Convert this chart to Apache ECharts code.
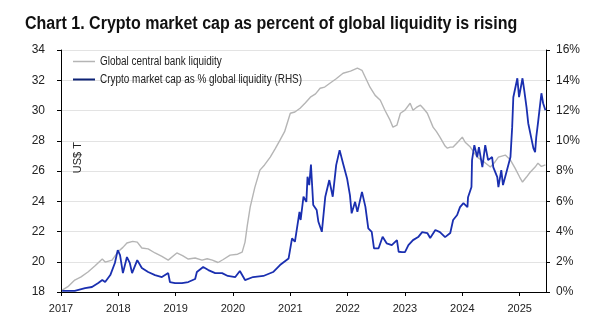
<!DOCTYPE html>
<html>
<head>
<meta charset="utf-8">
<script src="https://cdn.jsdelivr.net/npm/echarts@6/dist/echarts.min.js"></script>
<style>
html,body{margin:0;padding:0;background:#fff;}
#chart{width:600px;height:325px;}
</style>
</head>
<body>
<div id="chart"></div>
<script>
// ---- Data ----
var titleText = 'Chart 1. Crypto market cap as percent of global liquidity is rising';
var seriesNames = ['Global central bank liquidity', 'Crypto market cap as % global liquidity (RHS)'];
var yearTicks = [2017, 2018, 2019, 2020, 2021, 2022, 2023, 2024, 2025];

var liquidityDates = [2017.02,2017.12,2017.24,2017.35,2017.47,2017.60,2017.72,2017.77,2017.89,2017.99,
  2018.08,2018.15,2018.25,2018.33,2018.41,2018.52,2018.64,2018.76,2018.87,2019.02,
  2019.12,2019.22,2019.34,2019.46,2019.55,2019.64,2019.74,2019.83,2019.95,2020.08,
  2020.16,2020.21,2020.25,2020.30,2020.38,2020.47,2020.55,2020.65,2020.74,2020.82,
  2020.90,2021.00,2021.08,2021.17,2021.26,2021.35,2021.44,2021.52,2021.60,2021.69,
  2021.80,2021.92,2022.05,2022.17,2022.25,2022.32,2022.39,2022.48,2022.57,2022.65,
  2022.74,2022.79,2022.86,2022.92,2023.00,2023.09,2023.14,2023.20,2023.27,2023.33,
  2023.39,2023.49,2023.55,2023.61,2023.70,2023.74,2023.79,2023.84,2023.92,2024.00,
  2024.05,2024.14,2024.26,2024.38,2024.49,2024.57,2024.63,2024.75,2024.84,2024.92,
  2025.00,2025.05,2025.12,2025.18,2025.27,2025.32,2025.38,2025.45];
var liquidityValues = [18.13,18.35,18.79,19.0,19.32,19.75,20.18,19.98,20.11,20.64,
  20.95,21.24,21.35,21.30,20.91,20.85,20.58,20.35,20.11,20.58,
  20.4,20.18,20.25,20.11,20.2,20.11,19.95,20.15,20.44,20.5,
  20.64,21.30,22.4,23.61,24.9,26.06,26.4,26.92,27.5,28.04,
  28.6,29.82,29.9,30.15,30.5,30.88,31.1,31.47,31.55,31.80,
  32.1,32.46,32.6,32.80,32.66,32.1,31.54,31.0,30.68,30.02,
  29.36,28.90,29.03,29.82,30.02,30.48,30.02,30.2,30.35,30.1,
  29.82,28.90,28.6,28.24,27.65,27.51,27.58,27.58,27.9,28.24,
  27.9,27.58,26.92,26.6,26.26,26.6,26.92,27.05,26.72,26.19,
  25.6,25.27,25.6,25.9,26.26,26.52,26.3,26.4];

var cryptoDates = [2017.02,2017.24,2017.42,2017.54,2017.65,2017.72,2017.77,2017.86,2017.94,2017.99,
  2018.03,2018.08,2018.15,2018.20,2018.24,2018.33,2018.41,2018.52,2018.64,2018.76,
  2018.87,2018.90,2018.99,2019.11,2019.22,2019.34,2019.37,2019.48,2019.57,2019.69,
  2019.81,2019.91,2020.04,2020.12,2020.21,2020.35,2020.53,2020.70,2020.82,2020.97,
  2021.03,2021.08,2021.16,2021.18,2021.23,2021.28,2021.30,2021.33,2021.36,2021.40,
  2021.46,2021.49,2021.55,2021.61,2021.68,2021.74,2021.80,2021.86,2021.92,2021.99,
  2022.04,2022.07,2022.13,2022.17,2022.25,2022.31,2022.36,2022.42,2022.46,2022.54,
  2022.61,2022.68,2022.77,2022.86,2022.89,2022.95,2023.00,2023.06,2023.14,2023.23,
  2023.30,2023.39,2023.44,2023.53,2023.61,2023.70,2023.79,2023.84,2023.91,2023.96,
  2024.02,2024.09,2024.10,2024.16,2024.17,2024.21,2024.26,2024.29,2024.35,2024.40,
  2024.45,2024.52,2024.54,2024.61,2024.63,2024.68,2024.71,2024.78,2024.84,2024.87,
  2024.89,2024.96,2024.99,2025.05,2025.08,2025.12,2025.15,2025.20,2025.24,2025.27,
  2025.29,2025.32,2025.38,2025.41,2025.45];
var cryptoPct = [0.07,0.07,0.26,0.33,0.59,0.79,0.66,1.12,1.92,2.77,
  2.44,1.25,2.31,1.92,1.25,2.11,1.59,1.32,1.12,0.99,
  1.25,0.66,0.59,0.59,0.66,0.86,1.32,1.65,1.45,1.25,
  1.25,1.06,0.99,1.39,0.79,0.99,1.06,1.32,1.78,2.22,
  3.55,3.32,5.30,4.76,6.30,5.96,7.62,7.07,8.43,5.75,
  5.42,4.64,3.98,6.30,7.40,6.30,8.39,9.38,8.50,7.51,
  6.41,5.20,5.96,5.30,6.62,5.63,4.21,3.98,2.89,2.89,
  3.65,3.22,3.10,3.43,2.66,2.64,2.64,3.10,3.43,3.63,
  3.96,3.90,3.57,4.10,3.96,3.63,3.90,4.76,5.09,5.61,
  5.88,5.61,6.27,6.94,8.72,9.71,8.92,9.58,8.26,9.71,
  8.72,8.92,8.26,7.60,6.94,8.06,7.07,8.06,8.92,10.90,
  12.88,14.13,12.88,14.13,13.34,12.22,11.16,10.24,9.51,9.25,
  10.24,11.16,13.14,12.48,12.02];

// ---- Build series pairs ----
function pairs(xs, ys) { return xs.map(function (x, i) { return [x, ys[i]]; }); }

var FONT = '"Liberation Sans", Arial, sans-serif';
var GRAY = '#b5b5b5';
var BLUE = '#1a2fb0';
var chart = echarts.init(document.getElementById('chart'), null, {renderer: 'canvas'});
chart.setOption({
  animation: false,
  backgroundColor: '#ffffff',
  textStyle: {fontFamily: FONT},
  grid: {left: 61, right: 54, top: 50, bottom: 33, containLabel: false},
  xAxis: {
    type: 'value', min: 2017, max: 2025.46, interval: 1,
    axisLine: {show: true, lineStyle: {color: '#000', width: 1}},
    axisTick: {show: true, inside: false, length: 4, lineStyle: {color: '#000'}, customValues: yearTicks},
    axisLabel: {show: true, margin: 11, fontSize: 11, color: '#222', fontFamily: FONT, customValues: yearTicks,
      formatter: function (v) { return String(Math.round(v)); }},
    splitLine: {show: false}
  },
  yAxis: [
    {
      type: 'value', min: 18, max: 34, interval: 2, position: 'left',
      axisLine: {show: true, lineStyle: {color: '#000', width: 1}},
      axisTick: {show: true, inside: false, length: 4, lineStyle: {color: '#000'}},
      axisLabel: {margin: 16, fontSize: 12, color: '#222', fontFamily: FONT},
      splitLine: {show: true, lineStyle: {color: '#e3e3e3', width: 1}}
    },
    {
      type: 'value', min: 0, max: 16, interval: 2, position: 'right',
      axisLine: {show: true, lineStyle: {color: '#000', width: 1}},
      axisTick: {show: true, inside: false, length: 4, lineStyle: {color: '#000'}},
      axisLabel: {margin: 10, fontSize: 12, color: '#222', fontFamily: FONT, formatter: '{value}%'},
      splitLine: {show: false}
    }
  ],
  graphic: [
    {type: 'text', x: 25, y: 15, scaleX: 0.89, z: 10,
      style: {text: titleText, font: 'bold 18px ' + FONT, fill: '#111', textVerticalAlign: 'top'}},
    {type: 'line', shape: {x1: 73, y1: 61.5, x2: 95, y2: 61.5}, style: {stroke: GRAY, lineWidth: 1.5}, z: 10},
    {type: 'text', x: 100, y: 62, scaleX: 0.83, z: 10,
      style: {text: seriesNames[0], font: '12px ' + FONT, fill: '#222', textVerticalAlign: 'middle'}},
    {type: 'line', shape: {x1: 73, y1: 79.5, x2: 95, y2: 79.5}, style: {stroke: '#0d2275', lineWidth: 2}, z: 10},
    {type: 'text', x: 100, y: 80, scaleX: 0.83, z: 10,
      style: {text: seriesNames[1], font: '12px ' + FONT, fill: '#222', textVerticalAlign: 'middle'}},
    {type: 'text', x: 72, y: 142, rotation: Math.PI / 2, originX: 0, originY: 0, z: 10,
      style: {text: 'US$ T', font: '11px ' + FONT, fill: '#222', textAlign: 'right', textVerticalAlign: 'top'}}
  ],
  series: [
    {
      name: seriesNames[0], type: 'line', yAxisIndex: 0, symbol: 'none',
      data: pairs(liquidityDates, liquidityValues),
      lineStyle: {color: GRAY, width: 1.4}, itemStyle: {color: GRAY}, z: 2
    },
    {
      name: seriesNames[1], type: 'line', yAxisIndex: 1, symbol: 'none',
      data: pairs(cryptoDates, cryptoPct),
      lineStyle: {color: BLUE, width: 1.8}, itemStyle: {color: BLUE}, z: 3
    }
  ]
});
</script>
</body>
</html>
